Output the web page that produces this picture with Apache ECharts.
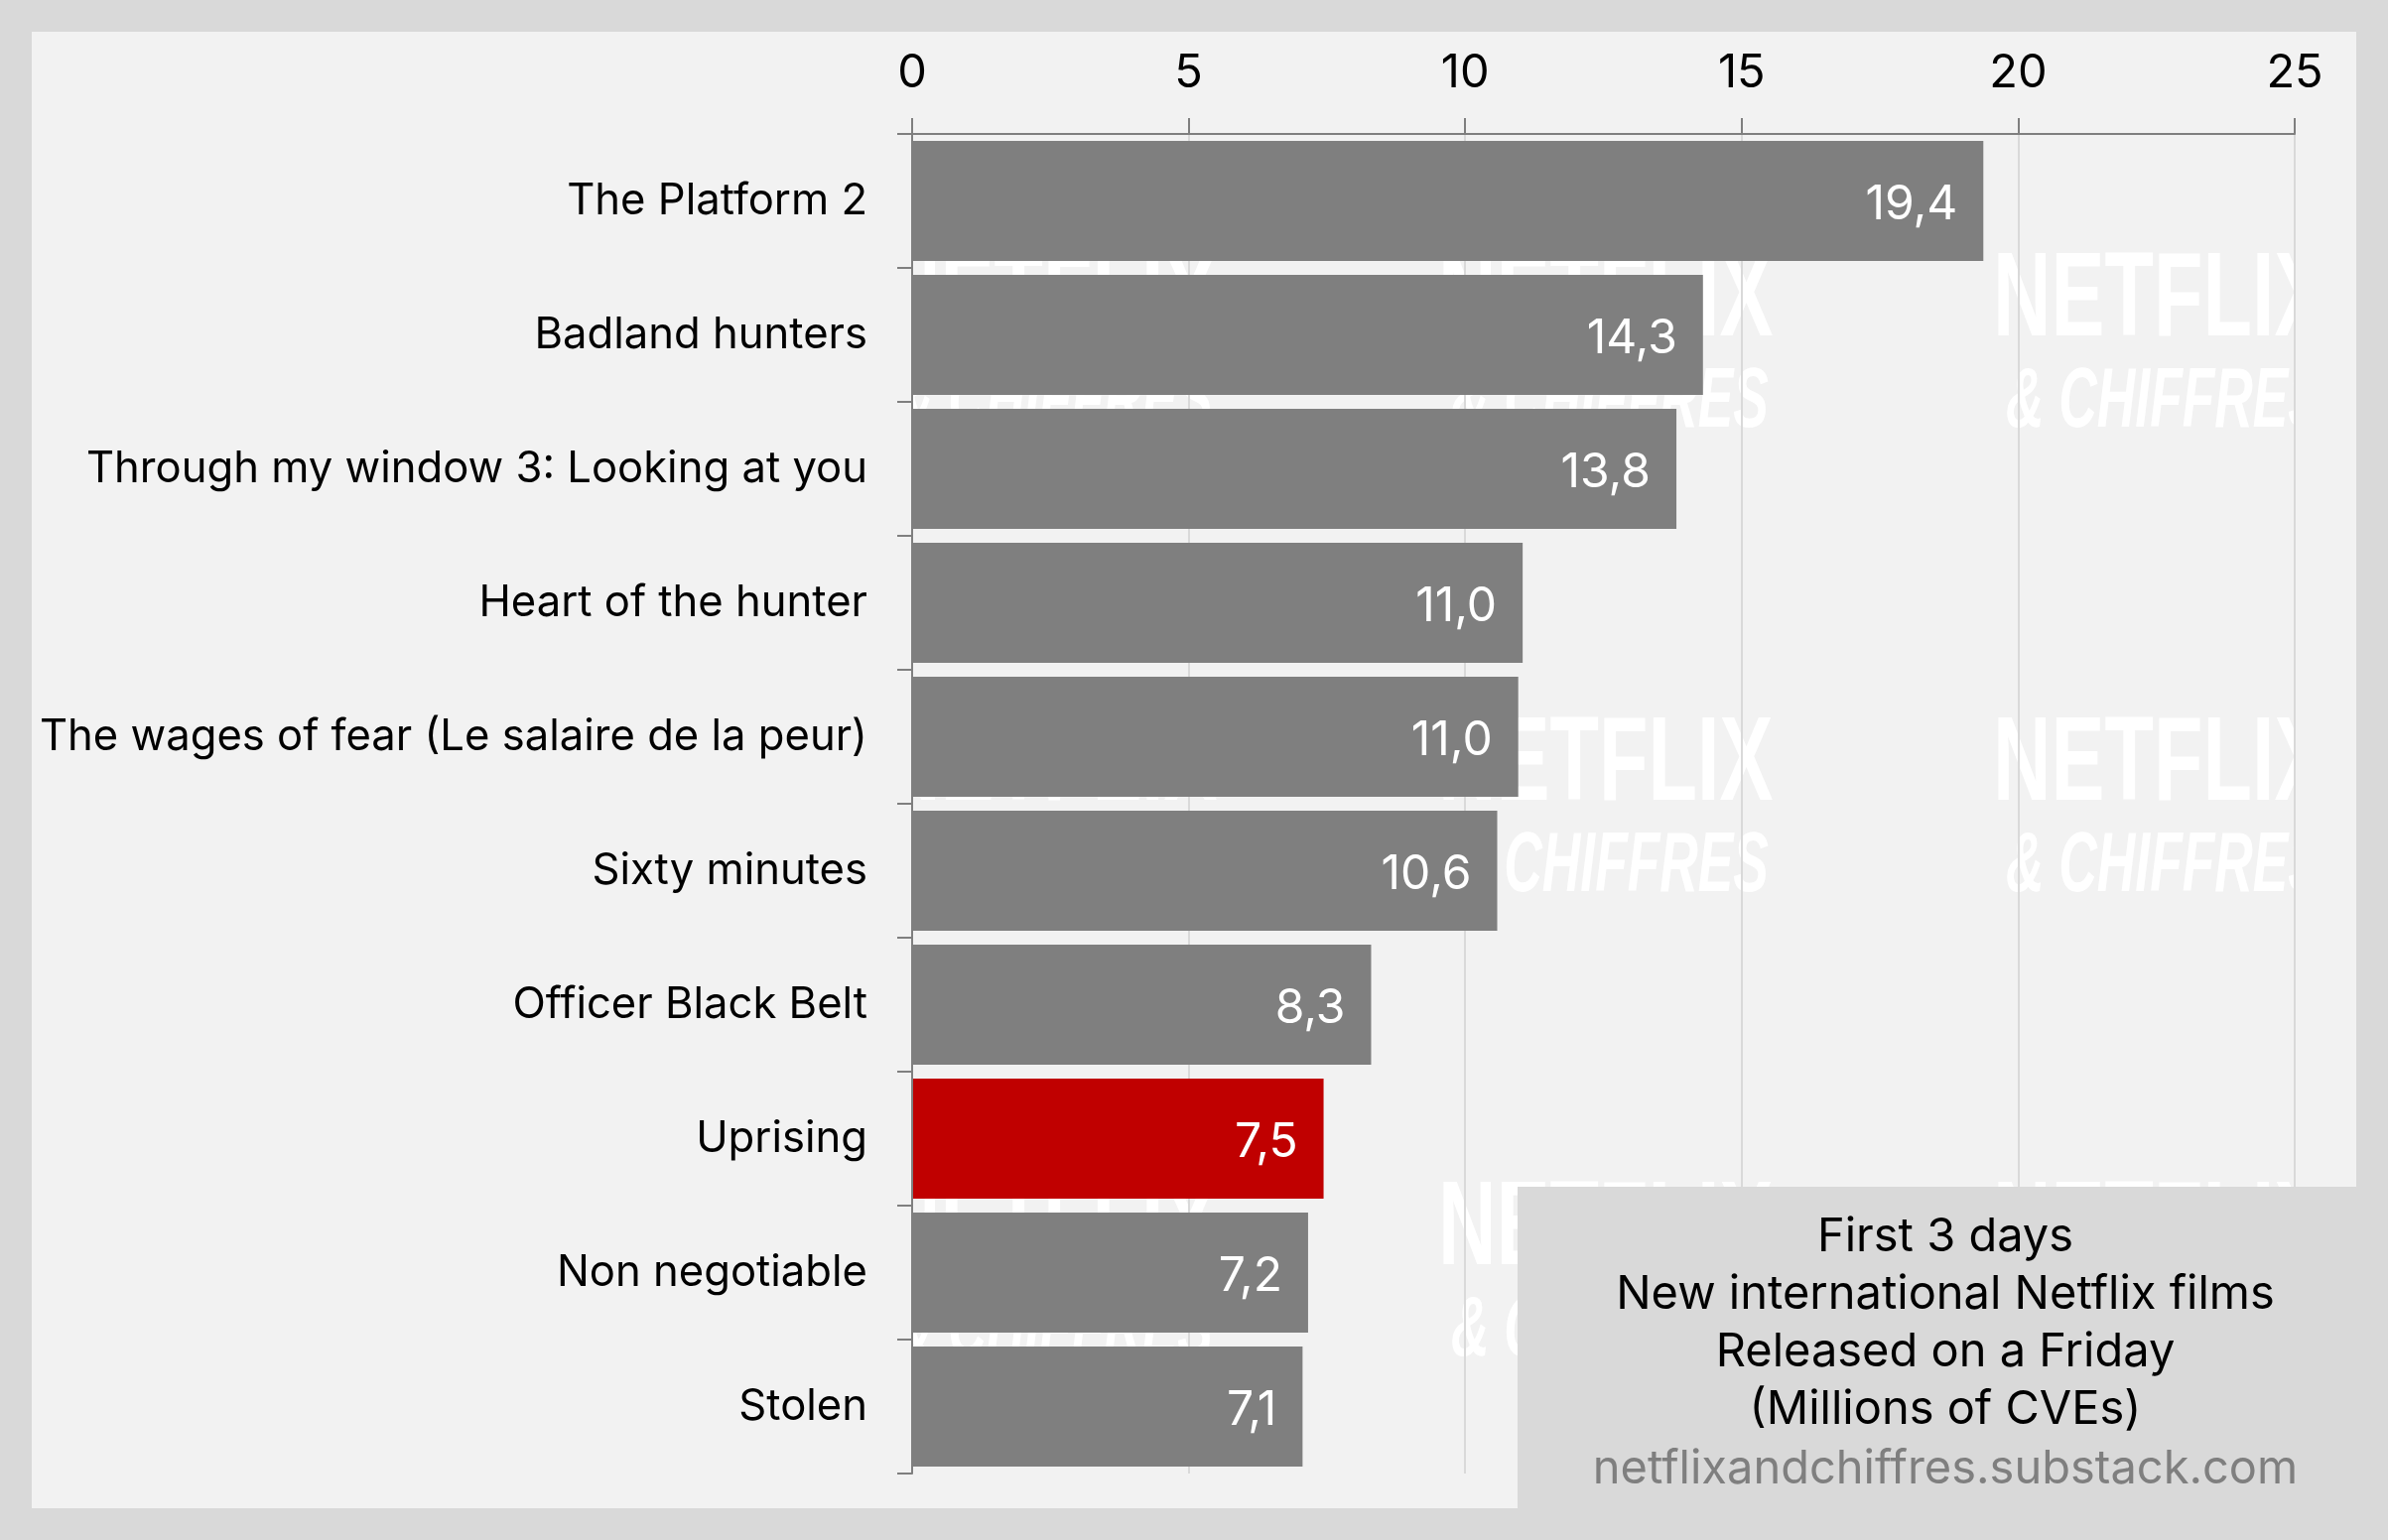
<!DOCTYPE html>
<html>
<head>
<meta charset="utf-8">
<style>html,body{margin:0;padding:0;background:#d9d9d9}#main{width:2406px;height:1552px}</style>
<script src="https://cdn.jsdelivr.net/npm/echarts@6/dist/echarts.min.js"></script>
</head>
<body>
<div id="main"></div>
<script>
const films = ['The Platform 2', 'Badland hunters', 'Through my window 3: Looking at you', 'Heart of the hunter',
  'The wages of fear (Le salaire de la peur)', 'Sixty minutes', 'Officer Black Belt', 'Uprising', 'Non negotiable', 'Stolen'];
const views = [19.37, 14.3, 13.82, 11.04, 10.96, 10.58, 8.3, 7.44, 7.16, 7.06];
const shownViews = ['19,4', '14,3', '13,8', '11,0', '11,0', '10,6', '8,3', '7,5', '7,2', '7,1'];
const highlighted = 'Uprising';
const noteLines = ['First 3 days', 'New international Netflix films', 'Released on a Friday', '(Millions of CVEs)'];
const noteSource = 'netflixandchiffres.substack.com';

const FONT = 'Inter';
const LABEL_SIZE = 43.6;
const TEXT_SIZE = 47;
const BG = '#d9d9d9', PANEL = '#f2f2f2', GREY = '#7f7f7f', RED = '#c00000';

// background panel, repeated watermark and the note box
const graphics = [
  { type: 'rect', z: -10, shape: { x: 32, y: 32, width: 2342, height: 1488 }, style: { fill: PANEL } }
];
[889, 1449, 2008].forEach(x => {
  [245, 713, 1181].forEach(y => {
    graphics.push({ type: 'text', z: -9, x: x, y: y, scaleX: 0.675,
      style: { text: 'NETFLIX', x: 0, y: 0, fill: '#fff', font: 'bold 120px "Liberation Sans"', verticalAlign: 'top' } });
    graphics.push({ type: 'text', z: -9, x: x + 13, y: y + 118, scaleX: 0.62,
      style: { text: '& CHIFFRES', x: 0, y: 0, fill: '#fff', font: 'italic bold 86px "Liberation Sans"', verticalAlign: 'top' } });
  });
});
// the watermark stops at the plot edges
graphics.push({ type: 'rect', z: -8, shape: { x: 32, y: 32, width: 887, height: 1488 }, style: { fill: PANEL } });
graphics.push({ type: 'rect', z: -8, shape: { x: 2312, y: 32, width: 62, height: 1488 }, style: { fill: PANEL } });
graphics.push({ type: 'rect', z: 20, shape: { x: 1529, y: 1196, width: 877, height: 356 }, style: { fill: BG } });
noteLines.forEach((line, i) => {
  graphics.push({ type: 'text', z: 21, x: 1960, y: 1247 + i * 58,
    style: { text: line, fill: '#000', font: TEXT_SIZE + 'px ' + FONT, align: 'center', verticalAlign: 'middle' } });
});
graphics.push({ type: 'text', z: 21, x: 1960, y: 1481,
  style: { text: noteSource, fill: GREY, font: TEXT_SIZE + 'px ' + FONT, align: 'center', verticalAlign: 'middle' } });

const chart = echarts.init(document.getElementById('main'));
chart.setOption({
  animation: false,
  backgroundColor: BG,
  textStyle: { fontFamily: FONT },
  graphic: graphics,
  grid: { left: 919, right: 94, top: 135, bottom: 67 },
  xAxis: {
    type: 'value', position: 'top', min: 0, max: 25, interval: 5, z: 1,
    axisLine: { show: true, lineStyle: { color: GREY, width: 2 } },
    axisTick: { show: true, length: 16, lineStyle: { color: GREY, width: 2 } },
    axisLabel: { color: '#000', fontSize: TEXT_SIZE, margin: 38, fontFamily: FONT },
    splitLine: { show: true, lineStyle: { color: BG, width: 2 } }
  },
  yAxis: {
    type: 'category', inverse: true, data: films, z: 3,
    axisLine: { show: true, lineStyle: { color: GREY, width: 2 } },
    axisTick: { show: true, length: 15, lineStyle: { color: GREY, width: 2 } },
    axisLabel: { color: '#000', fontSize: LABEL_SIZE, margin: 45, fontFamily: FONT, padding: [6, 0, 0, 0] }
  },
  series: [{
    type: 'bar', barWidth: 121, z: 2,
    data: views.map((v, i) => ({ value: v, itemStyle: { color: films[i] === highlighted ? RED : GREY } })),
    label: {
      show: true, position: 'insideRight', distance: 26, offset: [0, 4], color: '#fff', fontSize: 48, fontFamily: FONT,
      formatter: p => shownViews[p.dataIndex]
    }
  }]
});
</script>
</body>
</html>
